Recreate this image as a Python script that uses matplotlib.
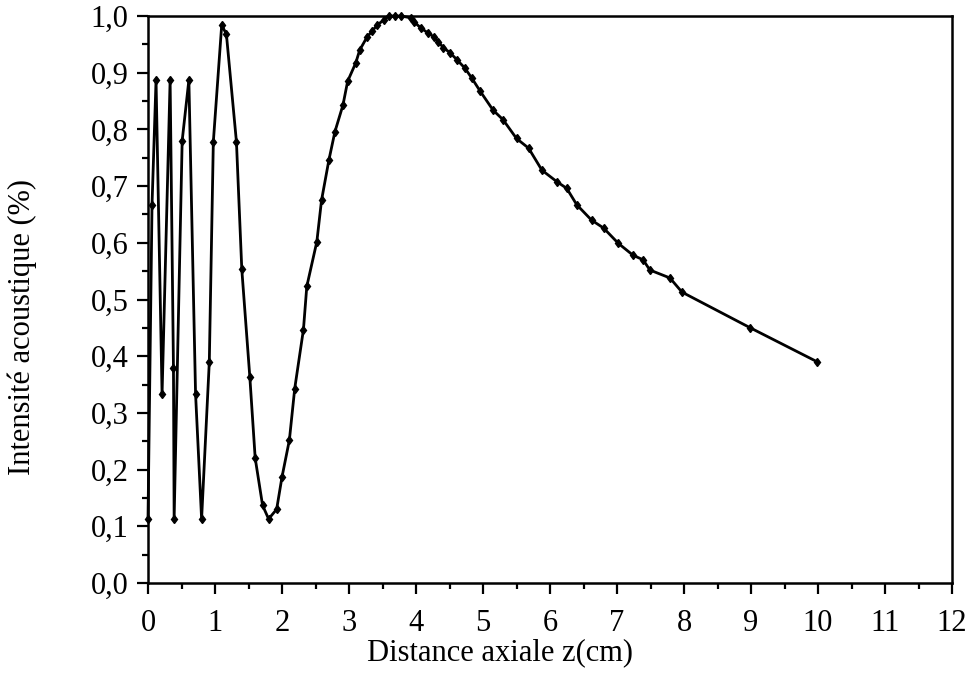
import matplotlib.pyplot as plt
from matplotlib.ticker import MultipleLocator, FixedLocator, FixedFormatter

# valeurs (z en cm, intensité normalisée)
z_cm = [0.0, 0.06, 0.12, 0.21, 0.33, 0.38, 0.39, 0.51, 0.61, 0.71, 0.80,
        0.915, 0.975, 1.10, 1.17, 1.32, 1.40, 1.52, 1.60, 1.71, 1.80,
        1.92, 2.00, 2.11, 2.19, 2.32, 2.37, 2.52, 2.59, 2.70, 2.79,
        2.91, 2.98, 3.10, 3.16, 3.27, 3.35, 3.42, 3.52, 3.59, 3.69,
        3.77, 3.92, 3.97, 4.07, 4.18, 4.27, 4.33, 4.41, 4.51, 4.61,
        4.73, 4.83, 4.96, 5.15, 5.30, 5.50, 5.68, 5.88, 6.10, 6.25,
        6.40, 6.62, 6.80, 7.02, 7.24, 7.39, 7.49, 7.79, 7.97, 8.99, 9.99]
intensite = [0.113, 0.667, 0.887, 0.333, 0.887, 0.38, 0.113, 0.78, 0.887, 0.333, 0.113,
             0.39, 0.778, 0.984, 0.968, 0.778, 0.553, 0.363, 0.22, 0.137, 0.113,
             0.13, 0.187, 0.252, 0.343, 0.447, 0.523, 0.602, 0.675, 0.746, 0.796,
             0.843, 0.885, 0.917, 0.940, 0.963, 0.974, 0.984, 0.993, 1.0, 1.0,
             1.0, 0.997, 0.99, 0.979, 0.970, 0.963, 0.955, 0.944, 0.935, 0.923,
             0.908, 0.891, 0.867, 0.834, 0.817, 0.784, 0.767, 0.728, 0.708, 0.696,
             0.667, 0.640, 0.626, 0.599, 0.578, 0.57, 0.552, 0.538, 0.513, 0.45, 0.39]

x_ticks = [0, 1, 2, 3, 4, 5, 6, 7, 8, 9, 10, 11, 12]
y_ticks = [0.0, 0.1, 0.2, 0.3, 0.4, 0.5, 0.6, 0.7, 0.8, 0.9, 1.0]
y_labels = ["0,0", "0,1", "0,2", "0,3", "0,4", "0,5", "0,6", "0,7", "0,8", "0,9", "1,0"]

plt.rcParams['font.family'] = ['Liberation Serif', 'DejaVu Serif']

fig = plt.figure(figsize=(9.72, 6.82), dpi=100)
ax = fig.add_axes([148 / 972, 1 - 583 / 682, (952 - 148) / 972, (583 - 16) / 682])

ax.plot(z_cm, intensite, color='black', lw=2.0, marker='d', ms=4.5,
        mec='black', mfc='black', clip_on=False)

ax.set_xlim(0, 12)
ax.set_ylim(0, 1.0)
ax.xaxis.set_major_locator(FixedLocator(x_ticks))
ax.xaxis.set_minor_locator(MultipleLocator(0.5))
ax.yaxis.set_major_locator(FixedLocator(y_ticks))
ax.yaxis.set_major_formatter(FixedFormatter(y_labels))
ax.yaxis.set_minor_locator(MultipleLocator(0.05))

ax.tick_params(which='major', direction='out', length=8, width=1.6, labelsize=22)
ax.tick_params(which='minor', direction='out', length=4, width=1.6)
ax.tick_params(axis='x', which='major', pad=11)
ax.tick_params(axis='y', which='major', pad=6)
ax.tick_params(top=False, right=False, which='both')
for s in ax.spines.values():
    s.set_linewidth(1.8)

ax.set_xlabel("Distance axiale z(cm)", fontsize=22)
ax.set_ylabel("Intensité acoustique (%)", fontsize=22)
ax.xaxis.set_label_coords(0.438, -0.097)
ax.yaxis.set_label_coords(-0.138, 0.451)

fig.savefig("out.png", dpi=100)
